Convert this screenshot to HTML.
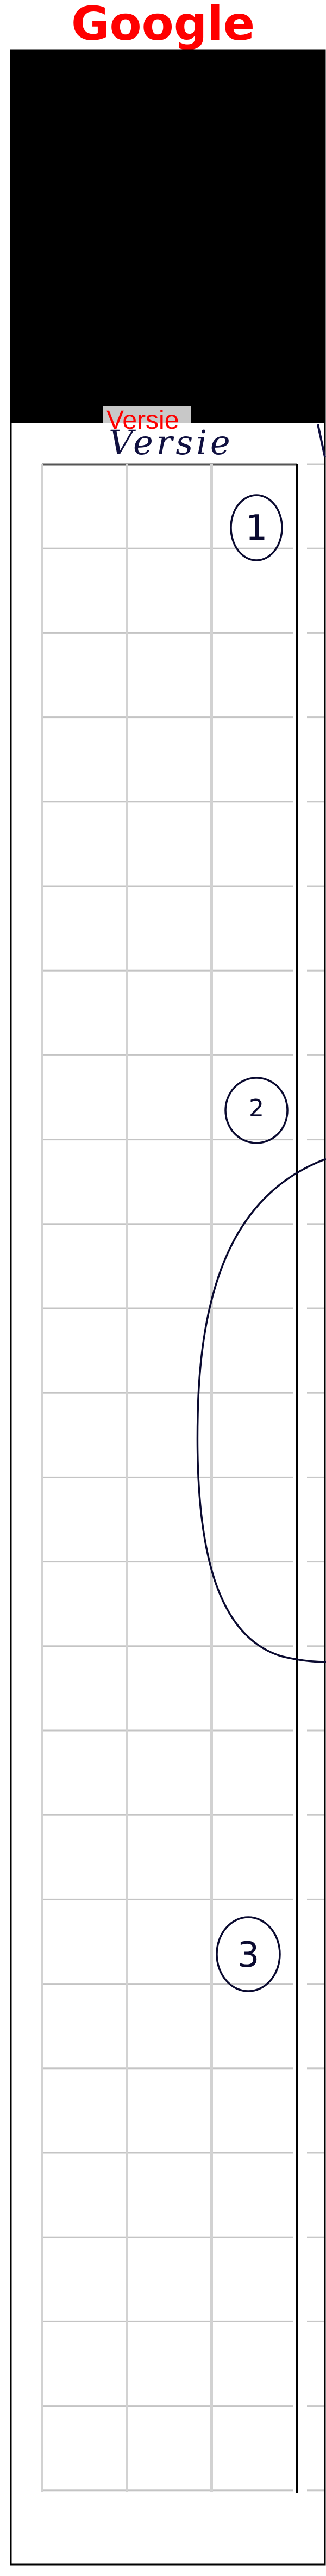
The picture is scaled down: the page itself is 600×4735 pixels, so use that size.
<!DOCTYPE html>
<html><head><meta charset="utf-8">
<style>
html,body{margin:0;padding:0;background:#fff;}
body{width:600px;height:4735px;position:relative;overflow:hidden;font-family:"Liberation Sans","DejaVu Sans",sans-serif;}
#title{position:absolute;left:0;top:-6px;width:600px;text-align:center;color:#f00;font-family:"DejaVu Sans",sans-serif;font-weight:bold;font-size:86px;line-height:100px;}
</style></head>
<body>
<div id="title">Google</div>
<svg id="sheet" width="600" height="4735" style="position:absolute;left:0;top:0">
  <rect x="20" y="92" width="578" height="4622" fill="#fff" stroke="#000" stroke-width="3"/>
  <rect x="21" y="92" width="577" height="685" fill="#000"/>
  <g id="grid"></g>
  <rect x="545" y="853" width="4" height="3730" fill="#000"/>
  <text x="200" y="835" font-family="'DejaVu Serif',serif" font-style="italic" font-size="62" fill="#101040" letter-spacing="6">Versie</text>
  <path d="M585 780 L598 840" stroke="#101040" stroke-width="4" fill="none"/>
  <rect x="190" y="747" width="161" height="30" fill="#c8c8c8"/>
  <text x="196" y="788" font-family="'Liberation Sans',sans-serif" font-size="48" fill="#f00">Versie</text>
  <g fill="none" stroke="#0a0a30" stroke-width="3.5">
    <ellipse cx="472" cy="970" rx="47" ry="60"/>
    <ellipse cx="472" cy="2041" rx="57" ry="60"/>
    <ellipse cx="457" cy="3592" rx="58" ry="68"/>
    <path d="M600 2130 C470 2180 370 2300 364 2600 C358 2850 400 3010 520 3045 C550 3052 575 3055 600 3055"/>
  </g>
  <g font-family="'DejaVu Sans',sans-serif" font-size="64" fill="#0a0a30" text-anchor="middle">
    <text x="472" y="992">1</text>
    <text x="472" y="2052" font-size="44">2</text>
    <text x="457" y="3615">3</text>
  </g>
</svg>
<script>
const rowIndices=[0,1,2,3,4,5,6,7,8,9,10,11,12,13,14,15,16,17,18,19,20,21,22,23,24];
const colXs=[75,231,387];
const rowStart=853, rowStep=155.2;
const g=document.getElementById('grid');
const NS='http://www.w3.org/2000/svg';
rowIndices.forEach(function(i){
  const y=rowStart+i*rowStep;
  const l=document.createElementNS(NS,'rect');
  l.setAttribute('x',77);l.setAttribute('y',y-1.5);l.setAttribute('width',i===0?470:462);l.setAttribute('height',i===0?4:3);
  l.setAttribute('fill',i===0?'#555':'#c4c4c4');
  
  
  g.appendChild(l);
  const r=document.createElementNS(NS,'rect');
  r.setAttribute('x',565);r.setAttribute('y',y-1.5);r.setAttribute('width',32);r.setAttribute('height',3);
  r.setAttribute('fill','#c8c8c8');
  
  
  g.appendChild(r);
});
colXs.forEach(function(x){
  const c=document.createElementNS(NS,'rect');
  c.setAttribute('x',x);c.setAttribute('y',853);c.setAttribute('width',5);c.setAttribute('height',3727);
  c.setAttribute('fill','#d2d2d2');
  
  
  g.appendChild(c);
});
</script>
</body></html>
